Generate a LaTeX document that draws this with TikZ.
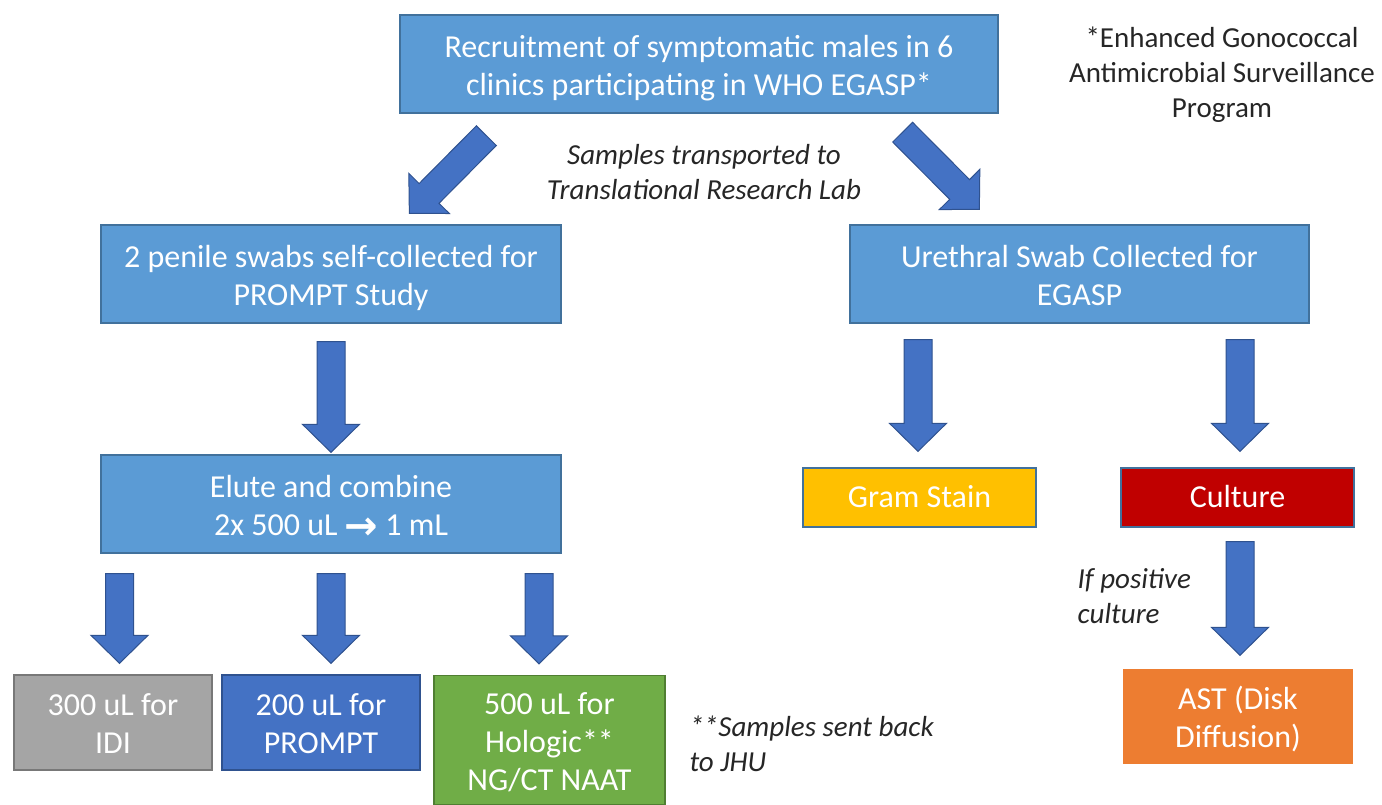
\documentclass[tikz,border=0pt]{standalone}
\usepackage{fontspec}
\setmainfont{Carlito}
\newfontfamily\arrowfont{DejaVu Sans}
\usetikzlibrary{calc}
\definecolor{boxfill}{HTML}{5B9BD5}
\definecolor{boxedge}{HTML}{41719C}
\definecolor{arrowfill}{HTML}{4472C4}
\definecolor{arrowedge}{HTML}{2F528F}
\definecolor{idifill}{HTML}{A5A5A5}
\definecolor{idiedge}{HTML}{787878}
\definecolor{naatfill}{HTML}{70AD47}
\definecolor{naatedge}{HTML}{507E32}
\definecolor{gramfill}{HTML}{FFC000}
\definecolor{culturefill}{HTML}{C00000}
\definecolor{astfill}{HTML}{ED7D31}
\tikzset{
    box font/.style={font=\fontsize{32}{38}\selectfont},
    flow box/.style={box font,draw=boxedge,fill=boxfill,text=white,line width=1.3pt,
        align=center,inner sep=0pt,
        execute at begin node={\rule{0pt}{#1}},
        execute at end node={\rule[-6.5pt]{0pt}{6.5pt}}},
    flow box/.default=0pt,
    note/.style={font=\fontsize{29}{35}\selectfont,align=center,text=black!85},
    italic note/.style={note,font=\fontsize{29}{35}\selectfont\itshape},
    fat arrow/.style={fill=arrowfill,draw=arrowedge,line width=1pt,line join=miter,
        to path={let \p1=(\tikztostart), \p2=(\tikztotarget) in
            ($(\p1)!#1!(\p2)!14pt!90:(\p2)$)
            -- ($(\p2)!#1!(\p1)!31.3pt!-26.57:(\p1)$)
            -- ($(\p2)!#1!(\p1)!40pt!-45.5:(\p1)$)
            -- ($(\p2)!#1!(\p1)$)
            -- ($(\p2)!#1!(\p1)!40pt!45.5:(\p1)$)
            -- ($(\p2)!#1!(\p1)!31.3pt!26.57:(\p1)$)
            -- ($(\p1)!#1!(\p2)!14pt!-90:(\p2)$)
            -- cycle}},
    fat arrow/.default=0pt,
}
\newcommand\thickto{\raisebox{-4pt}{\arrowfont\bfseries\fontsize{40}{38}\selectfont →}}
\newcommand\tstrut{\rule{0pt}{31pt}}

\begin{document}
\begin{tikzpicture}[x=1pt,y=-1pt]
    \useasboundingbox (0,0) rectangle (1382,805);

    % top
    \node[flow box,minimum width=598,minimum height=98] (recruit) at (699,64)
        {\tstrut Recruitment of symptomatic males in 6\\clinics participating in WHO EGASP*};
    \node[note] (egasp) at (1222,75)
        {*Enhanced Gonococcal\\Antimicrobial Surveillance\\Program};
    \node[italic note] (transport) at (704,172)
        {Samples transported to\\Translational Research Lab};

    % PROMPT side
    \node[flow box,minimum width=460,minimum height=98] (swabs) at (331,274)
        {\tstrut 2 penile swabs self-collected for\\PROMPT Study};
    \node[flow box,minimum width=460,minimum height=98] (elute) at (331,504)
        {\tstrut Elute and combine\\2x 500 uL \thickto{} 1 mL};
    \node[flow box,fill=idifill,draw=idiedge,minimum width=198,minimum height=95] (idi) at (113,722.5)
        {\tstrut 300 uL for\\IDI};
    \node[flow box,fill=arrowfill,draw=arrowedge,minimum width=198,minimum height=95] (prompt) at (321,722.5)
        {\tstrut 200 uL for\\PROMPT};
    \node[flow box,fill=naatfill,draw=naatedge,minimum width=231,minimum height=129] (naat) at (549.5,740)
        {\tstrut 500 uL for\\Hologic**\\NG/CT NAAT};
    \node[italic note,align=left,anchor=west] (jhu) at (686,744)
        {**Samples sent back\\to JHU};

    % EGASP side
    \node[flow box,minimum width=459,minimum height=98] (urethral) at (1079.5,274)
        {\tstrut Urethral Swab Collected for\\EGASP};
    \node[flow box=26pt,fill=gramfill,minimum width=233,minimum height=59] (gram) at (919.5,497.5)
        {Gram Stain};
    \node[flow box=26pt,fill=culturefill,minimum width=233,minimum height=59] (culture) at (1237.5,497.5)
        {Culture};
    \node[flow box,fill=astfill,draw=astfill,minimum width=228,minimum height=93] (ast) at (1238,716.5)
        {\tstrut AST (Disk\\Diffusion)};
    \node[italic note,align=left,anchor=west] (positive) at (1074,596)
        {If positive\\culture};

    % arrows
    \draw[fat arrow] ([xshift=87pt,yshift=-22pt]recruit.south west) to ([xshift=309pt,yshift=11pt]swabs.north west);
    \draw[fat arrow] ([xshift=-96pt,yshift=-18.5pt]recruit.south east) to ([xshift=130pt,yshift=15pt]urethral.north west);
    \draw[fat arrow=2pt] ([yshift=-16pt]swabs.south) to (elute.north);
    \draw[fat arrow=11pt] ([xshift=6.5pt,yshift=-9pt]elute.south -| idi.north) to ([xshift=6.5pt]idi.north);
    \draw[fat arrow=11pt] ([xshift=10pt,yshift=-9pt]elute.south -| prompt.north) to ([xshift=10pt]prompt.north);
    \draw[fat arrow=11pt] ([xshift=-10.5pt,yshift=-9pt]elute.south -| naat.north) to ([xshift=-10.5pt]naat.north);
    \draw[fat arrow=16pt] ([xshift=-1.5pt]urethral.south -| gram.north) to ([xshift=-1.5pt]gram.north);
    \draw[fat arrow=16pt] ([xshift=2.5pt]urethral.south -| culture.north) to ([xshift=2.5pt]culture.north);
    \draw[fat arrow=14pt] ([xshift=2.5pt]culture.south) to ([xshift=2pt]ast.north);
\end{tikzpicture}
\end{document}
